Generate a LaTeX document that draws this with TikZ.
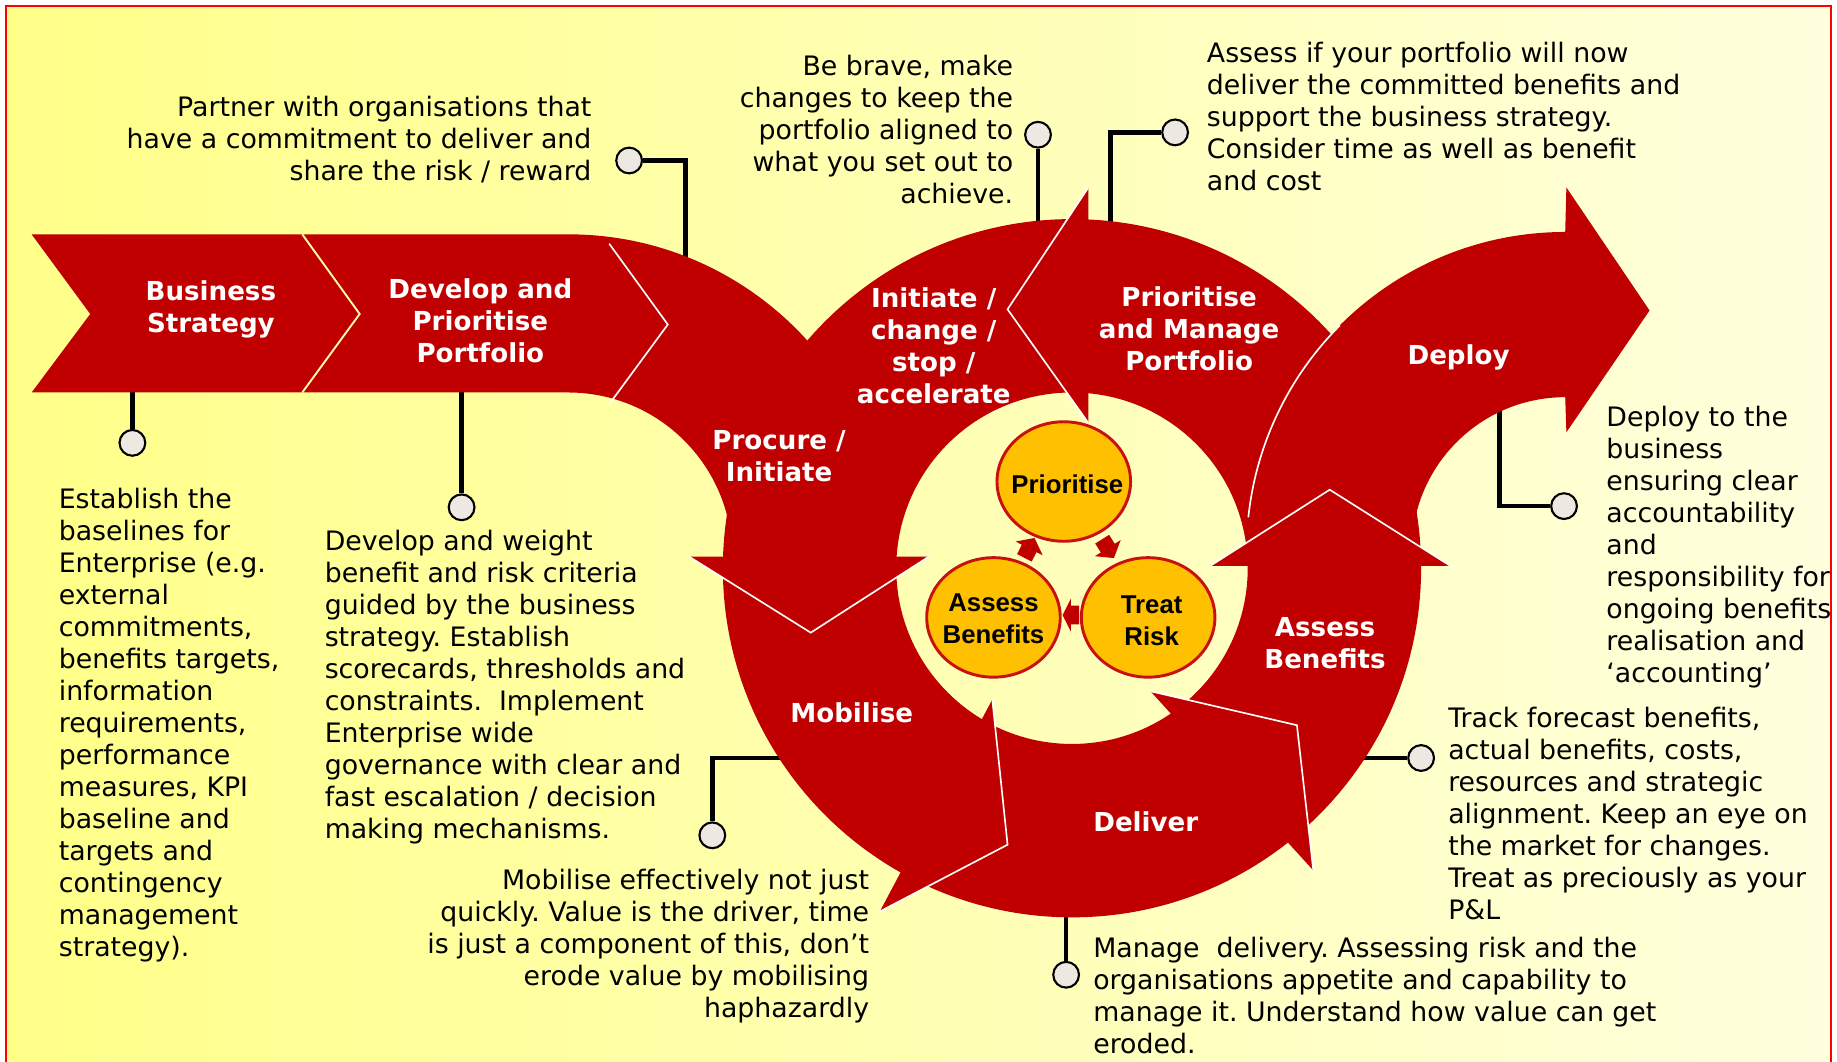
\documentclass[tikz,border=0pt]{standalone}
\usepackage{fontspec}
\setmainfont{DejaVu Sans}
\newfontfamily\circfont{Liberation Sans}
\usetikzlibrary{shapes.geometric}
\definecolor{dred}{RGB}{192,0,0}
\definecolor{orng}{RGB}{255,192,0}
\definecolor{cred}{RGB}{200,16,16}
\definecolor{dotfill}{RGB}{238,232,226}
\definecolor{bgl}{RGB}{255,255,136}
\definecolor{bgr}{RGB}{255,255,222}
\definecolor{sepc}{RGB}{255,255,170}
\newcommand\fst{\rule{0pt}{18pt}}
\begin{document}
\begin{tikzpicture}[x=1pt,y=-1pt,
  body/.style={inner sep=0pt, font=\fontsize{22.85}{27.3}\selectfont\frenchspacing, text=black},
  lab/.style={inner sep=0pt, align=center, text=white, font=\fontsize{22.3}{27.3}\selectfont\bfseries},
  orb/.style={ellipse, draw=cred, fill=orng, line width=2.5pt, minimum width=114pt, minimum height=102pt, inner sep=0pt},
  ctxt/.style={inner sep=0pt, align=center, text=black, font=\circfont\fontsize{22}{27}\selectfont\bfseries},
  dot/.style={circle, draw=black, fill=dotfill, line width=1.8pt, minimum size=22pt, inner sep=0pt},
  conn/.style={line width=4pt, black},
  wline/.style={white, line width=1.4pt, line join=miter},
  ribbon/.style={fill=dred},
  barrow/.style={fill=dred},
]
% background
\useasboundingbox (0,0) rectangle (1568,906);
\fill[white] (0,0) rectangle (1568,906);
\shade[left color=bgl, right color=bgr] (5,5) rectangle (1563,912);
\draw[red, line width=2pt] (5,912) -- (5,5) -- (1563,5) -- (1563,912);

% connector dots
\node[dot] (d1) at (113,378) {};
\node[dot] (d2) at (394,433) {};
\node[dot] (d3) at (537,137) {};
\node[dot] (d4) at (886,115) {};
\node[dot] (d5) at (1003,113) {};
\node[dot] (d6) at (1335,432) {};
\node[dot] (d7) at (608,713) {};
\node[dot] (d8) at (910,832) {};
\node[dot] (d9) at (1213,647) {};
\coordinate (e1) at (113,325);
\coordinate (e2) at (394,325);
\coordinate (e3) at (585,240);
\coordinate (e4) at (886,205);
\coordinate (e5) at (948,205);
\coordinate (e6) at (1280,340);
\coordinate (e7) at (682,647);
\coordinate (e8) at (910,770);
\coordinate (e9) at (1150,647);
\draw[conn] (d1) -- (e1);
\draw[conn] (d2) -- (e2);
\draw[conn] (d3) -- (585,137) -- (e3);
\draw[conn] (d4) -- (e4);
\draw[conn] (d5) -- (948,113) -- (e5);
\draw[conn] (d6) -- (1280,432) -- (e6);
\draw[conn] (d7) -- (608,647) -- (e7);
\draw[conn] (d8) -- (e8);
\draw[conn] (d9) -- (e9);

% ring
\fill[ribbon, even odd rule] (915,485) circle[radius=298] (915,485) circle[radius=150];
% develop band + procure arrow
\fill[ribbon] (258,200) -- (485,200) arc[start angle=-90, end angle=0, radius=275]
  -- (793,475) -- (692,540) -- (588,475) -- (625,475)
  arc[start angle=0, end angle=-90, radius=140] -- (258,335) -- (307,268) -- cycle;
% business strategy chevron
\fill[ribbon] (27,200) -- (258,200) -- (307,268) -- (258,335) -- (27,335) -- (77,268) -- cycle;
% deploy band + arrow
\fill[ribbon] (1064,470) arc[start angle=180, end angle=270, radius=272]
  -- (1337,160) -- (1408,265) -- (1337,369) -- (1336,339)
  arc[start angle=270, end angle=180, radius=131] -- cycle;
% arrowheads
\fill[ribbon] (929,160) -- (860,264) -- (929,361) -- cycle;
\fill[ribbon] (847,597) -- (860,721) -- (751,778) -- cycle;
\fill[ribbon] (982,590) -- (1107,619) -- (1121,743) -- cycle;
\fill[ribbon] (1033,483) -- (1135,418) -- (1238,483) -- cycle;

% white outlines
\draw[sepc, line width=1.6pt] (258,200) -- (307,268) -- (258,335);
\draw[wline] (520,208) -- (570,277) -- (520,345);
\draw[wline] (588,475) -- (692,540) -- (793,475);
\draw[wline] (929,160) -- (860,264) -- (929,361);
\draw[wline] (1143.7,277.7) arc[start angle=-135, end angle=-174, radius=272];
\draw[wline] (1033,483) -- (1135,418) -- (1238,483);
\draw[wline] (847,597) -- (860,721) -- (751,778);
\draw[wline] (982,590) -- (1107,619) -- (1121,743);

% orange circles
\node[orb] (cp) at (908,411) {};
\node[orb] (ca) at (848,527) {};
\node[orb] (ct) at (980,527) {};
\node[ctxt] (tcp) at (911,413) {Prioritise};
\node[ctxt] (tca) at (848,528) {Assess\\Benefits};
\node[ctxt] (tct) at (983,530) {Treat\\Risk};
% cycle arrows
\begin{scope}[shift={(878,469)}, rotate=63]
\fill[barrow] (-8,-7) -- (1,-7) -- (1,-13) -- (11,0) -- (1,13) -- (1,7) -- (-8,7) -- cycle;
\end{scope}
\begin{scope}[shift={(945,467)}, rotate=-58]
\fill[barrow] (-8,-7) -- (1,-7) -- (1,-13) -- (11,0) -- (1,13) -- (1,7) -- (-8,7) -- cycle;
\end{scope}
\begin{scope}[shift={(915,525)}, rotate=180]
\fill[barrow] (-6,-8) -- (1,-8) -- (1,-14) -- (8,0) -- (1,14) -- (1,8) -- (-6,8) -- cycle;
\end{scope}

% white labels
\node[lab] (lbs) at (180,264) {Business\\Strategy};
\node[lab] (ldev) at (410,274) {Develop and\\Prioritise\\Portfolio};
\node[lab] (lini) at (797,295) {Initiate /\\change /\\stop /\\accelerate};
\node[lab] (lpm) at (1015,281) {Prioritise\\and Manage\\Portfolio};
\node[lab] (lproc) at (665,389) {Procure /\\Initiate};
\node[lab] (ldep) at (1245,305) {Deploy};
\node[lab] (lab2) at (1131,549) {Assess\\Benefits};
\node[lab] (lmob) at (727,608) {Mobilise};
\node[lab] (ldel) at (978,701) {Deliver};

% body texts
\node[body, align=right, anchor=north east] (tpartner) at (505,81)
  {\fst Partner with organisations that\\have a commitment to deliver and\\share the risk / reward};
\node[body, align=right, anchor=north east] (tbrave) at (865,46)
  {\fst Be brave, make\\changes to keep the\\portfolio aligned to\\what you set out to\\achieve.};
\node[body, align=left, anchor=north west] (tassess) at (1030,35)
  {\fst Assess if your portfolio will now\\deliver the committed benefits and\\support the business strategy.\\Consider time as well as benefit\\and cost};
\node[body, align=left, anchor=north west] (testab) at (50,416)
  {\fst Establish the\\baselines for\\Enterprise (e.g.\\external\\commitments,\\benefits targets,\\information\\requirements,\\performance\\measures, KPI\\baseline and\\targets and\\contingency\\management\\strategy).};
\node[body, align=left, anchor=north west] (tdevw) at (277,452)
  {\fst Develop and weight\\benefit and risk criteria\\guided by the business\\strategy. Establish\\scorecards, thresholds and\\constraints.\ \ Implement\\Enterprise wide\\governance with clear and\\fast escalation / decision\\making mechanisms.};
\node[body, align=right, anchor=north east] (tmob) at (742,741)
  {\fst Mobilise effectively not just\\quickly. Value is the driver, time\\is just a component of this, don’t\\erode value by mobilising\\haphazardly};
\node[body, align=left, anchor=north west] (tman) at (933,799)
  {\fst Manage\ \ delivery. Assessing risk and the\\organisations appetite and capability to\\manage it. Understand how value can get\\eroded.};
\node[body, align=left, anchor=north west] (ttrack) at (1236,603)
  {\fst Track forecast benefits,\\actual benefits, costs,\\resources and strategic\\alignment. Keep an eye on\\the market for changes.\\Treat as preciously as your\\P\&L};
\node[body, align=left, anchor=north west] (tdeploy) at (1371,346)
  {\fst Deploy to the\\business\\ensuring clear\\accountability\\and\\responsibility for\\ongoing benefits\\realisation and\\‘accounting’};
\end{tikzpicture}
\end{document}
